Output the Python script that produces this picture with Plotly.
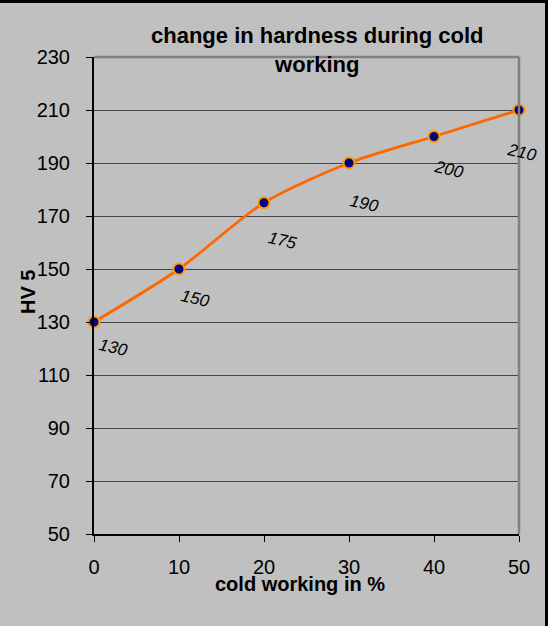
import plotly.graph_objects as go

cold_working = [0, 10, 20, 30, 40, 50]
hardness = [130, 150, 175, 190, 200, 210]
x_ticks = [0, 10, 20, 30, 40, 50]
y_ticks = [50, 70, 90, 110, 130, 150, 170, 190, 210, 230]

# label offsets in pixels (style only)
label_dx = [19, 16, 18, 15, 15, 3]
label_dy = [25, 29, 38, 40, 33, 42]

FONT = "Liberation Sans, Arial, sans-serif"
BG = "#C0C0C0"

fig = go.Figure()
fig.add_trace(go.Scatter(
    x=cold_working, y=hardness, mode="lines+markers",
    line=dict(color="#FF6600", width=2.8, shape="spline", smoothing=0.8),
    marker=dict(color="#000080", size=11, line=dict(color="#FF9900", width=2)),
    cliponaxis=False, showlegend=False, hoverinfo="skip",
))

for xv, yv, dx, dy in zip(cold_working, hardness, label_dx, label_dy):
    fig.add_annotation(
        x=xv, y=yv, xref="x", yref="y", text=f"<i>{yv}</i>", showarrow=False,
        xshift=dx, yshift=-dy, textangle=13,
        font=dict(family=FONT, size=17, color="#000000"),
    )

W, H = 548, 626
L, R, T, B = 94, 29, 57, 92
pw, ph = W - L - R, H - T - B

def px_x(px):
    return (px - L) / pw

def px_y(py):
    return 1 - (py - T) / ph

# title
fig.add_annotation(
    x=px_x(317), y=px_y(50), xref="paper", yref="paper",
    text="<b>change in hardness during cold<br>working</b>", showarrow=False,
    font=dict(family=FONT, size=22, color="#000000"), align="center",
    xanchor="center", yanchor="middle",
)
# x title
fig.add_annotation(
    x=px_x(300), y=px_y(584), xref="paper", yref="paper",
    text="<b>cold working in %</b>", showarrow=False,
    font=dict(family=FONT, size=20, color="#000000"),
    xanchor="center", yanchor="middle",
)
# y title
fig.add_annotation(
    x=px_x(28), y=px_y(292), xref="paper", yref="paper",
    text="<b>HV 5</b>", showarrow=False, textangle=-90,
    font=dict(family=FONT, size=20, color="#000000"),
    xanchor="center", yanchor="middle",
)

# plot area top/right border (gray)
fig.add_shape(type="line", xref="paper", yref="paper", x0=0, x1=1, y0=1, y1=1,
              line=dict(color="#808080", width=2.5))
fig.add_shape(type="line", xref="paper", yref="paper", x0=1, x1=1, y0=0, y1=1,
              line=dict(color="#808080", width=2.5))
# outer border top/right (black)
fig.add_shape(type="line", xref="paper", yref="paper", x0=px_x(0), x1=px_x(548),
              y0=px_y(1.5), y1=px_y(1.5), line=dict(color="#000000", width=3))
fig.add_shape(type="line", xref="paper", yref="paper", x0=px_x(546.5), x1=px_x(546.5),
              y0=px_y(0), y1=px_y(626), line=dict(color="#000000", width=3))

fig.update_layout(
    width=W, height=H,
    margin=dict(l=L, r=R, t=T, b=B, pad=0),
    paper_bgcolor=BG, plot_bgcolor=BG,
    font=dict(family=FONT, size=20, color="#000000"),
    showlegend=False,
)
fig.update_xaxes(
    range=[0, 50], tickvals=x_ticks, ticktext=[str(v) for v in x_ticks],
    showgrid=False, zeroline=False, showline=True, linecolor="#000000", linewidth=2,
    ticks="outside", ticklen=6, tickcolor="#000000", tickwidth=1,
    ticklabelstandoff=8, tickfont=dict(family=FONT, size=20),
)
fig.update_yaxes(
    range=[50, 230], tickvals=y_ticks, ticktext=[str(v) for v in y_ticks],
    showgrid=True, gridcolor="#454545", gridwidth=1.3, zeroline=False,
    showline=True, linecolor="#000000", linewidth=2,
    ticks="outside", ticklen=6, tickcolor="#000000", tickwidth=1,
    ticklabelstandoff=12, tickfont=dict(family=FONT, size=20),
)

fig.write_html("out.html", config={"displayModeBar": False},
               post_script="document.body.style.margin='0';")
